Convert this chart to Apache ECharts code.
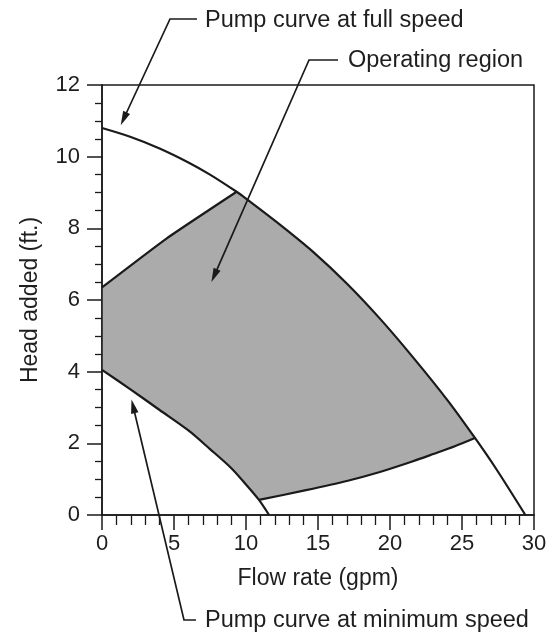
<!DOCTYPE html>
<html><head><meta charset="utf-8">
<script src="https://cdn.jsdelivr.net/npm/echarts@6/dist/echarts.min.js"></script>
<style>html,body{margin:0;padding:0;background:#fff}#c{width:559px;height:635px}</style>
</head><body><div id="c"></div>
<script>
// ---- data ----
const xTicks = [0, 5, 10, 15, 20, 25, 30];
const yTicks = [0, 2, 4, 6, 8, 10, 12];
const fullSpeed = [[0,10.8],[2,10.55],[4,10.23],[6,9.84],[7.5,9.5],[9.35,9.02],[10,8.83],[12.4,8.09],[14.7,7.33],[17,6.46],[19.3,5.48],[21.6,4.4],[24,3.2],[25.9,2.15],[27.4,1.27],[29.4,0]];
const minSpeed = [[0,4.05],[2,3.5],[4,2.93],[6,2.36],[7.5,1.84],[9,1.3],[10,0.85],[10.9,0.42],[11.6,0]];
const regionTop = [[0,6.35],[4.5,7.72],[9.35,9.02]];
const systemCurve = [[10.9,0.42],[14,0.68],[17,0.95],[19.3,1.2],[21.6,1.5],[23,1.7],[24.5,1.92],[25.9,2.15]];
const labels = {
  full: 'Pump curve at full speed',
  region: 'Operating region',
  min: 'Pump curve at minimum speed',
  xName: 'Flow rate (gpm)',
  yName: 'Head added (ft.)'
};
const tipFull = [1.3, 10.88];
const tipRegion = [7.6, 6.5];
const tipMin = [2.05, 3.22];

// polygon of the operating region built from the arrays above
const regionPoly = []
  .concat(regionTop)
  .concat(fullSpeed.filter(p => p[0] > 9.35 && p[0] <= 25.9))
  .concat(systemCurve.slice(0, -1).reverse())
  .concat(minSpeed.filter(p => p[0] < 10.9).reverse());

const FONT = '"Liberation Sans", Arial, Helvetica, sans-serif';
const INK = '#1a1a1a';
const TXT = '#1e1e1e';

const chart = echarts.init(document.getElementById('c'), null, {renderer: 'canvas'});

const lineSeries = (data, sm) => ({
  type: 'line', data, smooth: sm, symbol: 'none', z: 4,
  lineStyle: {color: INK, width: 2.2, join: 'round'}, silent: true
});

chart.setOption({
  animation: false,
  backgroundColor: '#fff',
  grid: {left: 102, right: 25, top: 85, bottom: 120, show: true, borderColor: INK, borderWidth: 1.5, backgroundColor: 'transparent'},
  xAxis: {
    type: 'value', min: xTicks[0], max: xTicks[xTicks.length-1], interval: xTicks[1]-xTicks[0],
    axisLine: {show: true, onZero: false, lineStyle: {color: INK, width: 1.5}},
    axisTick: {show: true, inside: false, length: 15, lineStyle: {color: INK, width: 1.5}},
    minorTick: {show: true, splitNumber: 5, length: 10, lineStyle: {color: INK, width: 1.3}},
    splitLine: {show: false},
    axisLabel: {fontSize: 22, color: TXT, margin: 18, fontFamily: FONT},
    name: labels.xName, nameLocation: 'middle', nameGap: 52,
    nameTextStyle: {fontSize: 23, color: TXT, fontFamily: FONT},
    z: 10
  },
  yAxis: {
    type: 'value', min: yTicks[0], max: yTicks[yTicks.length-1], interval: yTicks[1]-yTicks[0],
    axisLine: {show: true, onZero: false, lineStyle: {color: INK, width: 1.5}},
    axisTick: {show: true, inside: false, length: 15, lineStyle: {color: INK, width: 1.5}},
    minorTick: {show: true, splitNumber: 4, length: 7, lineStyle: {color: INK, width: 1.3}},
    splitLine: {show: false},
    axisLabel: {fontSize: 22, color: TXT, margin: 22, fontFamily: FONT},
    name: labels.yName, nameLocation: 'middle', nameGap: 60, nameRotate: 90,
    nameTextStyle: {fontSize: 23, color: TXT, fontFamily: FONT},
    z: 10
  },
  series: [
    {
      type: 'custom', z: 1, silent: true, data: [0],
      renderItem: function (params, api) {
        return {
          type: 'polygon',
          shape: {points: regionPoly.map(p => api.coord(p))},
          style: {fill: '#ababab', stroke: 'none'}
        };
      }
    },
    lineSeries(fullSpeed, 0.3),
    lineSeries(minSpeed, 0.3),
    lineSeries(regionTop, 0.15),
    lineSeries(systemCurve, 0.3)
  ]
});

function arrowGraphics(tipData, elbows, textPos, text) {
  const tip = chart.convertToPixel({gridIndex: 0}, tipData);
  const prev = elbows[elbows.length - 1];
  const dx = tip[0] - prev[0], dy = tip[1] - prev[1];
  const len = Math.hypot(dx, dy);
  const ux = dx / len, uy = dy / len;
  const L = 14, W = 3.8;
  const bx = tip[0] - ux * L, by = tip[1] - uy * L;
  const nx = -uy, ny = ux;
  const pts = elbows.concat([[bx + ux * 2, by + uy * 2]]);
  return [
    {type: 'polyline', shape: {points: pts}, style: {stroke: INK, lineWidth: 1.7, fill: null}, z: 20, silent: true},
    {type: 'polygon', shape: {points: [tip, [bx + nx * W, by + ny * W], [bx - nx * W, by - ny * W]]}, style: {fill: INK}, z: 20, silent: true},
    {type: 'text', x: textPos[0], y: textPos[1], z: 20, silent: true,
     style: {text: text, fontSize: 23.5, fontFamily: FONT, fill: TXT, align: 'left', verticalAlign: 'middle'}}
  ];
}

chart.setOption({
  graphic: []
    .concat(arrowGraphics(tipFull, [[197, 19], [170, 19]], [205, 21], labels.full))
    .concat(arrowGraphics(tipRegion, [[338, 60], [309, 60]], [348, 61], labels.region))
    .concat(arrowGraphics(tipMin, [[196, 620], [184, 620]], [205, 621], labels.min))
});
</script>
</body></html>
